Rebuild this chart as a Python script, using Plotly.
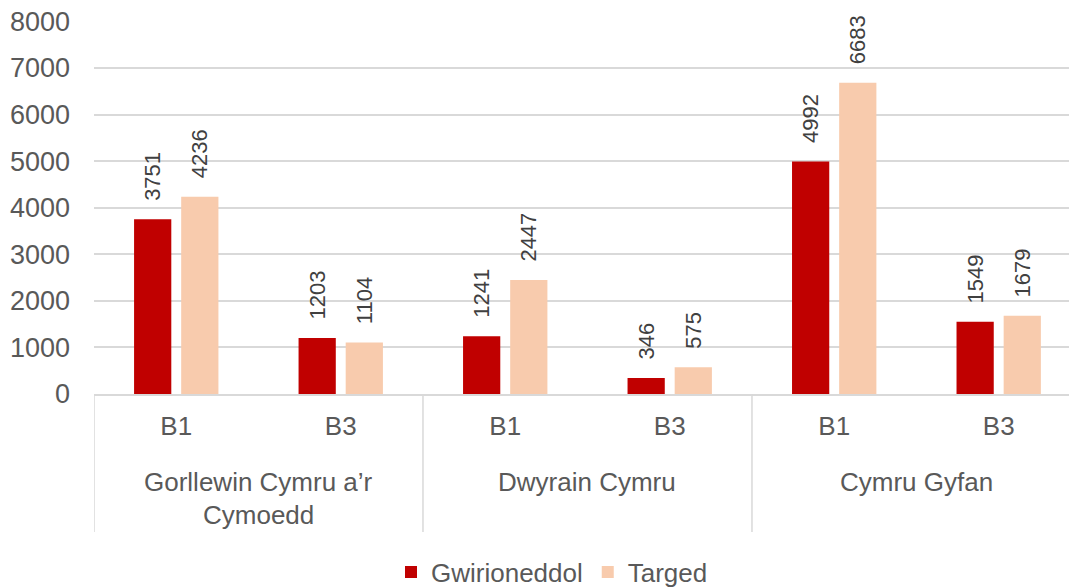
import plotly.graph_objects as go

groups = ["Gorllewin Cymru a’r<br>Cymoedd", "Dwyrain Cymru", "Cymru Gyfan"]
subcats = ["B1", "B3"]
actual = [3751, 1203, 1241, 346, 4992, 1549]
target = [4236, 1104, 2447, 575, 6683, 1679]
series_names = ["Gwirioneddol", "Targed"]
colors = ["#C00000", "#F8CBAD"]
y_ticks = [0, 1000, 2000, 3000, 4000, 5000, 6000, 7000, 8000]

n = len(groups) * len(subcats)
xpos = list(range(n))
ticktext = [s for g in groups for s in subcats]

FONT = "Liberation Sans"
fig = go.Figure()
for name, vals, col in zip(series_names, [actual, target], colors):
    fig.add_trace(go.Bar(
        x=xpos, y=vals, name=name, marker_color=col, marker_line_width=0,
        text=["\u2002\u2009" + str(v) for v in vals], textposition="outside", textangle=-90,
        textfont=dict(size=22, color="#404040", family=FONT),
        constraintext="none", cliponaxis=False,
    ))

tick_font = dict(size=26, color="#595959", family=FONT)
group_font = dict(size=26, color="#595959", family=FONT)

# page has an 8px body margin; figure sized to fill the remaining window
W, H = 1069, 579
ml, mt, mb = 86, 13, 193
plot_h = H - mt - mb
annotations = []
for i, g in enumerate(groups):
    for j, line in enumerate(g.split("<br>")):
        annotations.append(dict(
            x=i * 2 + 0.5, y=-(88 + 33 * j) / plot_h, xref="x", yref="paper", text=line,
            showarrow=False, yanchor="middle", font=group_font,
        ))

shapes = []
for i in range(len(groups) + 1):
    shapes.append(dict(
        type="line", x0=i * 2 - 0.5, x1=i * 2 - 0.5, xref="x", yref="paper",
        y0=0, y1=-138 / plot_h, line=dict(color="#D9D9D9", width=1.5),
    ))

fig.update_layout(
    width=W, height=H,
    margin=dict(l=ml, r=0, t=mt, b=mb, autoexpand=False),
    plot_bgcolor="white", paper_bgcolor="white",
    barmode="group", bargap=0.427, bargroupgap=0.21,
    font=dict(family=FONT, color="#595959"),
    xaxis=dict(
        tickvals=xpos, ticktext=ticktext, range=[-0.5, 5.476], automargin=False,
        showgrid=False, zeroline=False, showline=True, linecolor="#D9D9D9", linewidth=1.5,
        ticks="", tickfont=tick_font, ticklabelstandoff=8,
    ),
    yaxis=dict(
        range=[0, 8008], tickvals=y_ticks, showgrid=True, gridcolor="#D9D9D9", gridwidth=1.5,
        zeroline=False, showline=False, automargin=False, ticklabeloverflow="allow",
        tickfont=dict(size=27, color="#595959", family=FONT),
        ticks="", ticklabelstandoff=23,
    ),
    legend=dict(
        orientation="h", xref="container", yref="container", x=544 / W, y=1 - 564 / H,
        xanchor="center", yanchor="middle", font=dict(size=26, color="#595959"),
        itemwidth=30, tracegroupgap=0,
    ),
    annotations=annotations, shapes=shapes,
)

fig.write_html("out.html")
